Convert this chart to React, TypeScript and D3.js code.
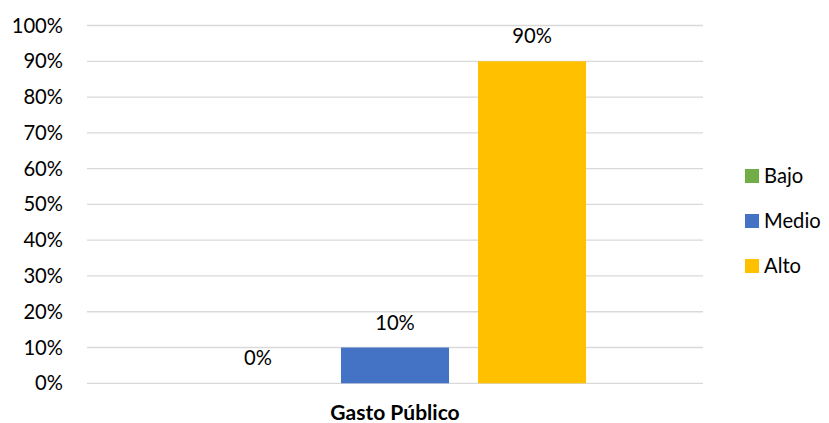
import React from "react";
import * as d3 from "d3";

const category = "Gasto Público";
const seriesNames = ["Bajo", "Medio", "Alto"];
const seriesValues = [0, 0.1, 0.9];
const seriesColors = ["#70AD47", "#4472C4", "#FFC000"];
const yTicks = [0, 0.1, 0.2, 0.3, 0.4, 0.5, 0.6, 0.7, 0.8, 0.9, 1.0];

const W = 829;
const H = 423;
const plot = { left: 87, right: 703, top: 25.5, bottom: 383.3 };
const font = "Lato, Carlito, 'Noto Sans', sans-serif";
const fs = 20.2;

export default function App() {
  const y = d3.scaleLinear().domain([0, 1]).range([plot.bottom, plot.top]);
  const band = d3
    .scaleBand<string>()
    .domain([category])
    .range([plot.left, plot.right])
    .paddingInner(0)
    .paddingOuter(0.306);
  const inner = d3
    .scaleBand<string>()
    .domain(seriesNames)
    .range([0, band.bandwidth()])
    .paddingInner(0.2117)
    .paddingOuter(0);
  const fmt = d3.format(".0%");
  const x0 = band(category) ?? 0;

  return (
    <svg
      width={W}
      height={H}
      style={{ position: "absolute", left: 0, top: 0, background: "#fff" }}
      fontFamily={font}
    >
      {yTicks.map((t) => (
        <g key={t}>
          <line
            x1={plot.left}
            x2={plot.right}
            y1={y(t)}
            y2={y(t)}
            stroke="#d9d9d9"
            strokeWidth={1.3}
          />
          <text
            x={63}
            y={y(t)}
            dy="0.35em"
            textAnchor="end"
            fontSize={fs}
            fill="#000"
          >
            {fmt(t)}
          </text>
        </g>
      ))}
      {seriesNames.map((s, i) => {
        const bx = x0 + (inner(s) ?? 0);
        const bw = inner.bandwidth();
        const v = seriesValues[i];
        return (
          <g key={s}>
            <rect
              x={bx}
              y={y(v)}
              width={bw}
              height={plot.bottom - y(v)}
              fill={seriesColors[i]}
            />
            <text
              x={bx + bw / 2}
              y={y(v) - 25}
              dy="0.35em"
              textAnchor="middle"
              fontSize={fs}
              fill="#000"
            >
              {fmt(v)}
            </text>
          </g>
        );
      })}
      <text
        x={(plot.left + plot.right) / 2}
        y={413}
        dy="0.35em"
        textAnchor="middle"
        fontSize={21}
        fontWeight="bold"
        fill="#000"
      >
        {category}
      </text>
      {seriesNames.map((s, i) => (
        <g key={s} transform={`translate(745, ${169 + i * 45})`}>
          <rect x={0} y={0} width={14} height={14} fill={seriesColors[i]} />
          <text x={19} y={7} dy="0.35em" fontSize={fs} fill="#000">
            {s}
          </text>
        </g>
      ))}
    </svg>
  );
}
